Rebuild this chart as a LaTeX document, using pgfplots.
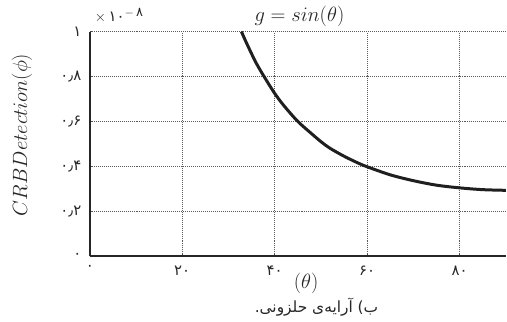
\documentclass[border=0pt]{standalone}
\usepackage{fontspec}
\usepackage{pgfplots}
\pgfplotsset{compat=1.18}
\newfontfamily\arabicfont[Script=Arabic]{DejaVu Sans}
\TeXXeTstate=1
\begin{document}
\begin{tikzpicture}
\begin{axis}[
  name=ax,
  width=417bp, height=225bp, scale only axis,
  xmin=0, xmax=90, ymin=0, ymax=1,
  axis x line*=bottom, axis y line*=left,
  axis line style={-, line width=2.4bp, black!85},
  xtick={0,20,40,60,80},
  xticklabels={۰,۲۰,۴۰,۶۰,۸۰},
  ytick={0,0.2,0.4,0.6,0.8,1},
  yticklabels={۰,۰٫۲,۰٫۴,۰٫۶,۰٫۸,۱},
  ticklabel style={font=\arabicfont\fontsize{15}{17}\selectfont, black!85},
  xticklabel style={yshift=-6bp},
  yticklabel style={xshift=-5bp},
  major tick length=2bp,
  tick style={black!70, line width=0.6pt},
  grid=major,
  grid style={dash pattern=on 0.7pt off 1.3pt, line width=0.7pt, black!65},
  clip mode=individual,
]
\addplot[line width=3bp, black!88, smooth] coordinates {
(32.8,1.0) (34,0.945) (36,0.86) (38,0.79) (40,0.725) (42,0.67) (45,0.60)
(48,0.545) (50,0.51) (52,0.48) (55,0.445) (58,0.415) (60,0.398)
(65,0.362) (70,0.336) (75,0.316) (80,0.304) (85,0.296) (90,0.293)
};
\node[font=\fontsize{21}{24}\selectfont, black!85] at (axis description cs:0.504,1.07) {$g = sin(\theta)$};
\node[anchor=west, font=\fontsize{15}{17}\selectfont, black!85, inner sep=0pt] at (axis description cs:0.012,1.072) {$\times$\,{\arabicfont ۱۰}\raisebox{0.8ex}{\fontsize{13}{14}\selectfont$-$\,{\arabicfont ۸}}};
\node[rotate=90, font=\fontsize{21}{24}\selectfont, black!85] at (axis description cs:-0.163,0.54) {$CRBDetection(\phi)$};
\node[font=\fontsize{21}{24}\selectfont, black!85] at (axis description cs:0.52,-0.12) {$(\theta)$};
\node[font=\arabicfont\fontsize{15.5}{18}\selectfont, black!85] at (axis description cs:0.545,-0.228) {\beginR ب) آرایه‌ی حلزونی.\endR};
\end{axis}
\path ([xshift=-90bp,yshift=-65.3bp]ax.south west) ([yshift=31.7bp]ax.north east);
\end{tikzpicture}
\end{document}
